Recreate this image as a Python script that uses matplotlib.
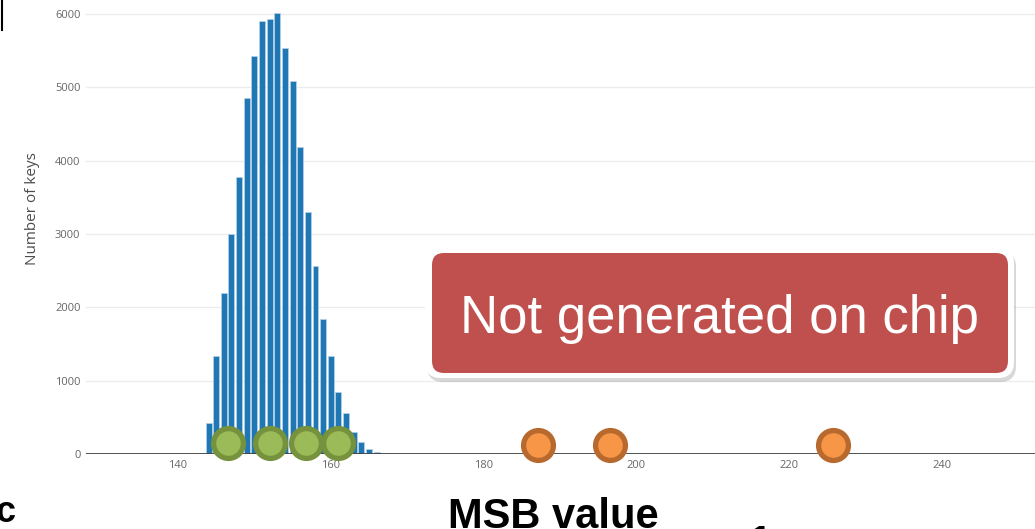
import numpy as np
import matplotlib.pyplot as plt
from matplotlib.patches import FancyBboxPatch
from matplotlib.transforms import IdentityTransform

# histogram of MSB values (one bar per integer value)
msb = np.arange(144, 168)
counts = [420, 1340, 2195, 3000, 3785, 4850, 5430, 5910, 5930, 6020, 5535, 5085,
          4190, 3300, 2560, 1845, 1335, 850, 565, 295, 160, 65, 22, 13]

# chips generated on chip (green) / not generated on chip (orange)
green_x = [146.5, 152.1, 156.8, 161.0]
green_y = [145, 145, 145, 145]
orange_x = [187.1, 196.5, 225.7]
orange_y = [120, 120, 120]

yticks = [0, 1000, 2000, 3000, 4000, 5000, 6000]
xticks = [140, 160, 180, 200, 220, 240]

W, H = 1035, 529
fig = plt.figure(figsize=(W / 100, H / 100), dpi=100)
ax = fig.add_axes([86 / W, (H - 454) / H, (W - 86) / W, (454 - 5) / H])

ax.bar(msb, counts, width=0.78, color="#1f77b4", edgecolor="#b9d3ea", linewidth=0.5, zorder=2)
ax.axhline(0, color="#444444", lw=1.3, zorder=3)
ax.plot(green_x, green_y, "o", ms=21.5, mfc="#9bbb59", mec="#76923c", mew=3.8,
        clip_on=False, zorder=5)
ax.plot(orange_x, orange_y, "o", ms=21.5, mfc="#f79646", mec="#b8692e", mew=3.8,
        clip_on=False, zorder=5)

ax.set_xlim(127.96, 252.17)
ax.set_ylim(0, 6125)
ax.set_yticks(yticks)
ax.set_xticks(xticks)
ax.grid(axis="y", color="#ececec", lw=1, zorder=0)
for s in ax.spines.values():
    s.set_visible(False)
ax.tick_params(length=0, labelsize=8, labelcolor="#666666")
ax.tick_params(axis="y", pad=4)
ax.tick_params(axis="x", pad=4)
for lab in ax.get_xticklabels() + ax.get_yticklabels():
    lab.set_fontfamily("Open Sans")

fig.text(33 / W, 1 - 209 / H, "Number of keys", rotation=90, ha="center", va="center",
         fontsize=11, color="#4d4d4d", family="Open Sans")


# callout box (pixel coordinates from top-left)
def pbox(x0, y0, x1, y1, r, **kw):
    p = FancyBboxPatch((x0, H - y1), x1 - x0, y1 - y0,
                       boxstyle=f"round,pad=0,rounding_size={r}",
                       transform=IdentityTransform(), **kw)
    fig.patches.append(p)


pbox(427, 251, 1016, 382, 16, facecolor="#808080", edgecolor="none", alpha=0.3)
pbox(425, 247, 1014, 378, 16, facecolor="white", edgecolor="none")
pbox(432, 253, 1008, 373, 12, facecolor="#c0504d", edgecolor="none")
fig.text(719 / W, 1 - 333 / H, "Not generated on chip", ha="center", va="baseline",
         fontsize=38, color="white", family="Liberation Sans")

# slide fragments around the chart
fig.text(553 / W, 1 - 528 / H, "MSB value", ha="center", va="baseline",
         fontsize=30, fontweight="bold", color="black", family="Liberation Sans")
fig.text(17 / W, 1 - 522 / H, "oc", ha="right", va="baseline",
         fontsize=26, fontweight="bold", color="black", family="Liberation Sans")
fig.text(760 / W, 1 - 524 / H, "1", ha="center", va="top",
         fontsize=30, fontweight="bold", color="black", family="Liberation Sans")
fig.add_artist(plt.Line2D([1.5 / W, 1.5 / W], [1, 1 - 30 / H], color="black", lw=1.5))

fig.savefig("out.png", dpi=100)
